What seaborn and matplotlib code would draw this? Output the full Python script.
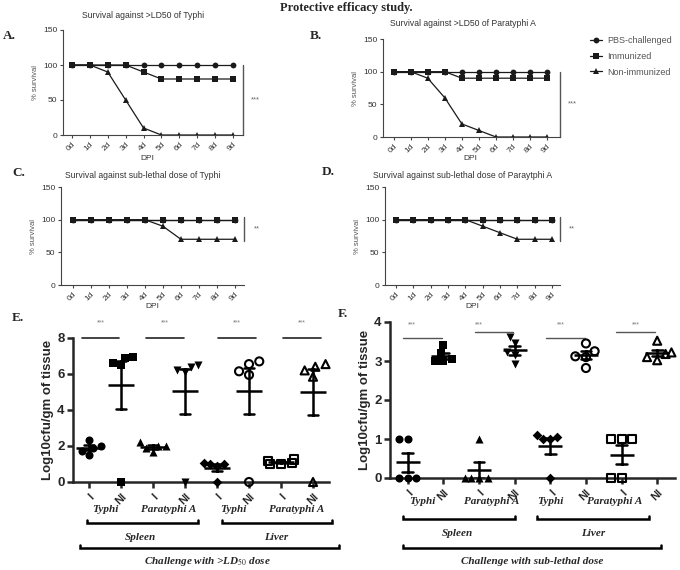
import numpy as np
import pandas as pd
import matplotlib
matplotlib.use("Agg")
import matplotlib.pyplot as plt
import matplotlib.transforms as mtransforms
import seaborn as sns

sns.set_style("ticks")
plt.rcParams["font.family"] = ["Liberation Sans", "DejaVu Sans"]
plt.rcParams["mathtext.fontset"] = "stix"

W, H = 680, 570

# ---------- survival data (% survival) ----------
days = [0, 1, 2, 3, 4, 5, 6, 7, 8, 9]
day_labels = ["0d", "1d", "2d", "3d", "4d", "5d", "6d", "7d", "8d", "9d"]
series_names = ["PBS-challenged", "Immunized", "Non-immunized"]
series_markers = {"PBS-challenged": "o", "Immunized": "s", "Non-immunized": "^"}

a_pbs = [100, 100, 100, 100, 100, 100, 100, 100, 100, 100]
a_imm = [100, 100, 100, 100, 90, 80, 80, 80, 80, 80]
a_non = [100, 100, 90, 50, 10, 0, 0, 0, 0, 0]

b_pbs = [100, 100, 100, 100, 100, 100, 100, 100, 100, 100]
b_imm = [100, 100, 100, 100, 90, 90, 90, 90, 90, 90]
b_non = [100, 100, 90, 60, 20, 10, 0, 0, 0, 0]

c_pbs = [100, 100, 100, 100, 100, 100, 100, 100, 100, 100]
c_imm = [100, 100, 100, 100, 100, 100, 100, 100, 100, 100]
c_non = [100, 100, 100, 100, 100, 90, 70, 70, 70, 70]

d_pbs = [100, 100, 100, 100, 100, 100, 100, 100, 100, 100]
d_imm = [100, 100, 100, 100, 100, 100, 100, 100, 100, 100]
d_non = [100, 100, 100, 100, 100, 90, 80, 70, 70, 70]

# ---------- bacterial load (log10 cfu/gm tissue) ----------
cat_order = ["spl_ty_I", "spl_ty_NI", "spl_pa_I", "spl_pa_NI",
             "liv_ty_I", "liv_ty_NI", "liv_pa_I", "liv_pa_NI"]
cat_ticks = ["I", "NI", "I", "NI", "I", "NI", "I", "NI"]
cat_markers = ["o", "s", "^", "v", "D", "o", "s", "^"]
cat_open = [False, False, False, False, False, True, True, True]

# E: >LD50 challenge
e_spl_ty_i = [2.0, 2.35, 1.5, 1.75, 1.9]
e_spl_ty_ni = [6.6, 6.95, 6.9, 6.5, 0.0]
e_spl_pa_i = [2.2, 2.0, 1.65, 1.9, 2.0]
e_spl_pa_ni = [6.4, 6.5, 6.1, 6.2, 0.0]
e_liv_ty_i = [1.0, 0.9, 1.0, 1.05, 0.0]
e_liv_ty_ni = [6.55, 6.7, 6.15, 5.95, 0.0]
e_liv_pa_i = [1.0, 1.15, 1.25, 1.0, 1.05]
e_liv_pa_ni = [6.4, 6.55, 6.2, 5.85, 0.0]

# F: sub-lethal challenge
f_spl_ty_i = [1.0, 1.0, 0.0, 0.0, 0.0]
f_spl_ty_ni = [3.4, 3.2, 3.05, 3.0, 3.0]
f_spl_pa_i = [1.0, 0.0, 0.0, 0.0, 0.0]
f_spl_pa_ni = [3.62, 3.45, 3.22, 3.15, 2.92]
f_liv_ty_i = [1.1, 1.0, 1.05, 1.0, 0.0]
f_liv_ty_ni = [3.45, 3.25, 3.1, 3.12, 2.82]
f_liv_pa_i = [1.0, 1.0, 1.0, 0.0, 0.0]
f_liv_pa_ni = [3.52, 3.22, 3.18, 3.1, 3.02]

e_vals = [e_spl_ty_i, e_spl_ty_ni, e_spl_pa_i, e_spl_pa_ni,
          e_liv_ty_i, e_liv_ty_ni, e_liv_pa_i, e_liv_pa_ni]
f_vals = [f_spl_ty_i, f_spl_ty_ni, f_spl_pa_i, f_spl_pa_ni,
          f_liv_ty_i, f_liv_ty_ni, f_liv_pa_i, f_liv_pa_ni]

fig = plt.figure(figsize=(6.8, 5.7), dpi=100)


def px_axes(x0, y0, x1, y1):
    return fig.add_axes([x0 / W, 1 - y1 / H, (x1 - x0) / W, (y1 - y0) / H])


def fy(y):
    return 1 - y / H


def ftext(x, y, s, **kw):
    fig.text(x / W, fy(y), s, va="center", **kw)


SERIF = ["Liberation Serif", "DejaVu Serif"]

ftext(346, 8, "Protective efficacy study.", ha="center", family=SERIF,
      fontweight="bold", fontsize=9)


def survival(ax, pbs, imm, non, xlim, bar, stars):
    vals = {"PBS-challenged": pbs, "Immunized": imm, "Non-immunized": non}
    for name in ["PBS-challenged", "Non-immunized", "Immunized"]:
        sns.lineplot(x=days, y=vals[name], ax=ax, color="#1a1a1a", lw=0.9,
                     marker=series_markers[name], markersize=4.2,
                     markeredgewidth=0, label=name, legend=False)
    ax.set_xlim(*xlim)
    ax.set_ylim(0, 150)
    ax.set_yticks([0, 50, 100, 150])
    ax.set_xticks(days)
    ax.set_xticklabels(day_labels, rotation=45, ha="right", rotation_mode="anchor")
    sns.despine(ax=ax)
    for s in ["left", "bottom"]:
        ax.spines[s].set_linewidth(0.8)
        ax.spines[s].set_color("#444")
    ax.tick_params(labelsize=6, length=2.5, width=0.8, color="#444",
                   labelcolor="#333", pad=1.5)
    ax.set_ylabel("% survival", fontsize=5.5, color="#555", labelpad=3)
    ax.set_xlabel("")
    ax.plot([xlim[1], xlim[1]], bar, color="#555", lw=1, clip_on=False)
    ax.text(1.07, np.mean(bar) / 150, stars, transform=ax.transAxes,
            fontsize=5.5, color="#666", ha="center", va="center")


axA = px_axes(63, 30, 243, 135)
survival(axA, a_pbs, a_imm, a_non, (-0.5, 9.56), [0, 100], "***")
axB = px_axes(383, 39, 560, 137)
survival(axB, b_pbs, b_imm, b_non, (-0.62, 9.75), [0, 100], "***")
axC = px_axes(61, 187, 244, 285)
survival(axC, c_pbs, c_imm, c_non, (-0.65, 9.5), [68, 104], "**")
axD = px_axes(385, 187, 560, 285)
survival(axD, d_pbs, d_imm, d_non, (-0.64, 9.46), [68, 104], "**")

handles, labels = axB.get_legend_handles_labels()
hmap = dict(zip(labels, handles))
axB.legend([hmap[n] for n in series_names], series_names, loc="upper left",
           bbox_to_anchor=(590 / W, fy(36)), bbox_transform=fig.transFigure,
           frameon=False, fontsize=6.5, handlelength=1.3, handletextpad=0.6,
           labelspacing=0.75, labelcolor="#555", borderaxespad=0, borderpad=0)

sfont = dict(fontsize=6.2, color="#333", ha="center")
ftext(143, 15, "Survival against >LD50 of Typhi", **sfont)
ftext(463, 24, "Survival against >LD50 of Paratyphi A", **sfont)
ftext(143, 175, "Survival against sub-lethal dose of Typhi", **sfont)
ftext(463, 175, "Survival against sub-lethal dose of Paraytphi A", **sfont)
for x, y in [(147, 158), (470, 158), (152, 307), (472, 307)]:
    ftext(x, y, "DPI", fontsize=6, color="#333", ha="center")

lfont = dict(family=SERIF, fontweight="bold", fontsize=9.5, ha="left")
ftext(3, 36, "A.", **lfont)
ftext(310, 36, "B.", **lfont)
ftext(12, 173, "C.", **lfont)
ftext(322, 172, "D.", **lfont)
ftext(12, 318, "E.", **lfont)
ftext(338, 314, "F.", **lfont)


def cfu_panel(ax, vals, ymax, yticks, msize, mean_w):
    df = pd.DataFrame({
        "group": np.repeat(cat_order, [len(v) for v in vals]),
        "log_cfu": np.concatenate(vals),
    })
    for cat, m, op in zip(cat_order, cat_markers, cat_open):
        sub = df[df["group"] == cat]
        n_before = len(ax.collections)
        sns.swarmplot(data=sub, x="group", y="log_cfu", order=cat_order, ax=ax,
                      marker=m, size=msize * (0.85 if m == "D" else 1),
                      color="black", linewidth=0)
        for pts in ax.collections[n_before:]:
            if len(pts.get_offsets()) == 0:
                continue
            pts.set_clip_on(False)
            if op:
                pts.set_facecolor("none")
                pts.set_edgecolor("black")
                pts.set_linewidth(1.5)
    sns.pointplot(data=df, x="group", y="log_cfu", order=cat_order, ax=ax,
                  errorbar="se", color="black", markers="_", linestyles="none",
                  capsize=0.3, markersize=mean_w, markeredgewidth=1.8,
                  err_kws={"linewidth": 1.8})
    ax.set_xlim(-0.5, 7.5)
    ax.set_ylim(0, ymax)
    ax.set_yticks(yticks)
    ax.set_xticks(range(len(cat_order)))
    ax.set_xticklabels(cat_ticks, rotation=45, ha="right", rotation_mode="anchor",
                       fontweight="bold", fontsize=8)
    for lab in ax.get_yticklabels():
        lab.set_fontweight("bold")
    sns.despine(ax=ax)
    for s in ["left", "bottom"]:
        ax.spines[s].set_linewidth(1.8)
    ax.tick_params(axis="y", labelsize=9.5, length=4, width=1.8, pad=2)
    ax.tick_params(axis="x", length=4, width=1.8, pad=3)
    ax.set_xlabel("")
    ax.set_ylabel("Log10cfu/gm of tissue", fontsize=9.5, fontweight="bold",
                  labelpad=2)


def bracket(ax, x0, x1, ypx):
    trans = mtransforms.blended_transform_factory(ax.transData, fig.transFigure)
    ax.plot([x0, x0, x1, x1], [fy(ypx - 3), fy(ypx), fy(ypx), fy(ypx - 3)],
            transform=trans, color="black", lw=1.8, clip_on=False,
            solid_joinstyle="miter")


def under_text(ax, x, ypx, s):
    trans = mtransforms.blended_transform_factory(ax.transData, fig.transFigure)
    ax.text(x, fy(ypx), s, transform=trans, ha="center", va="center",
            family=SERIF, fontweight="bold", fontstyle="italic", fontsize=8)


# ---- panel E ----
axE = px_axes(73, 338, 329, 482)
cfu_panel(axE, e_vals, 8, [0, 2, 4, 6, 8], 5.8, 19)
for x0, x1 in [(-0.22, 0.94), (1.78, 2.97), (4.03, 5.22), (6.06, 7.25)]:
    axE.plot([x0, x1], [8.02, 8.02], color="#222", lw=1.2, clip_on=False)
    axE.text((x0 + x1) / 2, 8.83, "***", fontsize=5, color="#777",
             ha="center", va="center")
for x, s in [(0.5, "Typhi"), (2.5, "Paratyphi A"), (4.5, "Typhi"), (6.5, "Paratyphi A")]:
    under_text(axE, x, 510, s)
bracket(axE, -0.06, 3.4, 523)
bracket(axE, 4.16, 7.6, 523)
under_text(axE, 1.6, 537, "Spleen")
under_text(axE, 5.85, 537, "Liver")
bracket(axE, -0.28, 7.8, 548)
under_text(axE, 3.7, 561, r"Challenge with >LD$_{50}$ dose")

# ---- panel F ----
axF = px_axes(390, 322, 675, 478)
cfu_panel(axF, f_vals, 4, [0, 1, 2, 3, 4], 5.8, 17)
for x0, x1, yv, xs in [(-0.14, 0.95, 3.6, 0.1), (1.88, 2.94, 3.75, 2.0),
                       (3.87, 4.96, 3.6, 4.3), (5.85, 6.95, 3.75, 6.4)]:
    axF.plot([x0, x1], [yv, yv], color="#555", lw=1, clip_on=False)
    axF.text(xs, 3.93, "***", fontsize=5, color="#777", ha="center", va="center")
for x, s in [(0.4, "Typhi"), (2.35, "Paratyphi A"), (4.0, "Typhi"), (5.8, "Paratyphi A")]:
    under_text(axF, x, 501, s)
bracket(axF, -0.14, 3.0, 519)
bracket(axF, 3.64, 6.78, 519)
under_text(axF, 1.4, 533, "Spleen")
under_text(axF, 5.2, 533, "Liver")
bracket(axF, -0.14, 7.1, 548)
under_text(axF, 3.5, 562, "Challenge with sub-lethal dose")

fig.savefig("out.png", dpi=100)
